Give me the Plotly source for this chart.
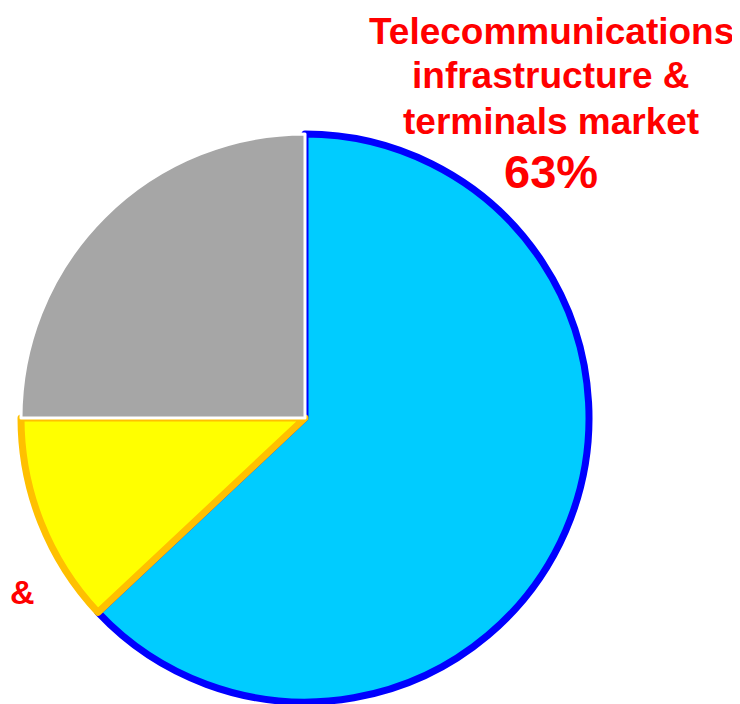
"""Pie chart: market share, telecom infrastructure & terminals."""

import plotly.graph_objects as go

labels = ["Telecommunications infrastructure & terminals market", "Other (yellow)", "Other (gray)"]
values = [63, 12, 25]
fill_colors = ["#00CCFF", "#FFFF00", "#A6A6A6"]
line_colors = ["#0000FF", "#FFC000", "#FFFFFF"]
line_widths = [7, 7, 3]

label_lines = ["Telecommunications", "infrastructure &", "terminals market"]
label_pct = "63%"
cut_label = "&"  # left-hand label, mostly off the picture

W, H = 740, 704
OFF = 8  # page body margin, the figure sits this far in from the corner
cx, cy, r = 305 - OFF, 418 - OFF, 284  # pixel centre / radius of the pie

fig = go.Figure(
    go.Pie(
        labels=labels,
        values=values,
        sort=False,
        direction="clockwise",
        rotation=0,
        textinfo="none",
        hoverinfo="skip",
        marker=dict(colors=fill_colors, line=dict(color=line_colors, width=line_widths)),
        domain=dict(
            x=[(cx - r) / W, (cx + r) / W],
            y=[(H - cy - r) / H, (H - cy + r) / H],
        ),
        showlegend=False,
    )
)

red_font = dict(family="Liberation Sans, Arial, sans-serif", color="#FF0000")


def px_note(text, x, y, size, anchor="center"):
    fig.add_annotation(
        x=max(x - OFF, 0) / W, y=1 - (y - OFF) / H, xref="paper", yref="paper",
        text=f"<b>{text}</b>", showarrow=False,
        xanchor=anchor, yanchor="middle",
        font=dict(size=size, **red_font),
    )


for i, line in enumerate(label_lines):
    px_note(line, 551, 31 + 45 * i, 37)
px_note(label_pct, 551, 172, 47)
px_note(cut_label, 0, 592, 34, anchor="left")

fig.update_layout(
    width=W,
    height=H,
    margin=dict(l=0, r=0, t=0, b=0, autoexpand=False),
    paper_bgcolor="white",
    plot_bgcolor="white",
)

fig.write_html("out.html")
